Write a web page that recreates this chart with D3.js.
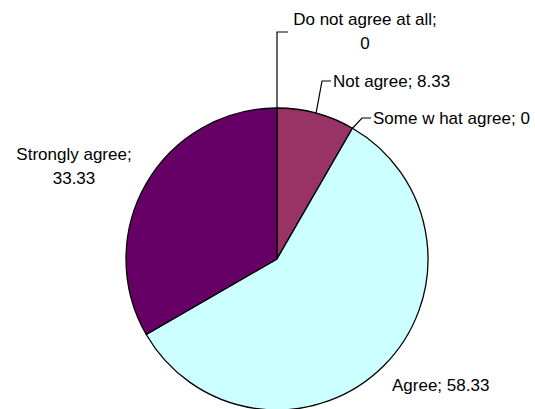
<!DOCTYPE html>
<html>
<head>
<meta charset="utf-8">
<script src="https://cdn.jsdelivr.net/npm/d3@7"></script>
<style>
  body { margin: 0; background: #fff; }
  text { font-family: Arial, "Liberation Sans", sans-serif; font-size: 17px; fill: #000; }
</style>
</head>
<body>
<svg id="chart" width="535" height="409"></svg>
<script>
const categories = ['Do not agree at all', 'Not agree', 'Some w hat agree', 'Agree', 'Strongly agree']
const values = [0, 8.33, 0, 58.33, 33.33]
const colors = ['#9999FF', '#993366', '#FFFFCC', '#CCFFFF', '#660066']

const width = 535, height = 409
const cx = 277, cy = 259, radius = 151

const svg = d3.select('#chart')
const g = svg.append('g').attr('transform', `translate(${cx},${cy})`)

const pie = d3.pie().sort(null).value(d => d)
const arcs = pie(values)
const arc = d3.arc().innerRadius(0).outerRadius(radius)

g.selectAll('path.slice')
  .data(arcs)
  .enter()
  .append('path')
    .attr('class', 'slice')
    .attr('d', arc)
    .attr('fill', (d, i) => colors[i])
    .attr('stroke', '#000')
    .attr('stroke-width', 1.3)
    .attr('stroke-linejoin', 'round')

// label placement (absolute page coords), one per slice
// lines: text lines, anchor, x, first baseline; elbow: where the leader bends
const labelLayout = [
  { anchor: 'middle', x: 365, y: 25, twoLine: true, elbow: [277, 32], end: [288, 32] },
  { anchor: 'start', x: 333, y: 87, elbow: [322, 81], end: [331, 81] },
  { anchor: 'start', x: 373, y: 124, elbow: [362, 118], end: [371, 118] },
  { anchor: 'start', x: 392, y: 391 },
  { anchor: 'middle', x: 74, y: 160, twoLine: true }
]

function edgePoint(d, angle) {
  return [cx + radius * Math.sin(angle), cy - radius * Math.cos(angle)]
}

const labels = svg.append('g')

arcs.forEach((d, i) => {
  const lay = labelLayout[i]
  const name = categories[i]
  const val = String(values[i])

  if (lay.elbow) {
    const mid = (d.startAngle + d.endAngle) / 2
    const p0 = edgePoint(d, mid)
    labels.append('path')
      .attr('d', d3.line()([p0, lay.elbow, lay.end]))
      .attr('fill', 'none')
      .attr('stroke', '#000')
      .attr('stroke-width', 1.2)
  }

  const t = labels.append('text')
    .attr('text-anchor', lay.anchor)
    .attr('x', lay.x)
    .attr('y', lay.y)

  if (lay.twoLine) {
    t.append('tspan').attr('x', lay.x).text(name + ';')
    t.append('tspan').attr('x', lay.x).attr('dy', 24).text(val)
  } else {
    t.text(`${name}; ${val}`)
  }
})
</script>
</body>
</html>
